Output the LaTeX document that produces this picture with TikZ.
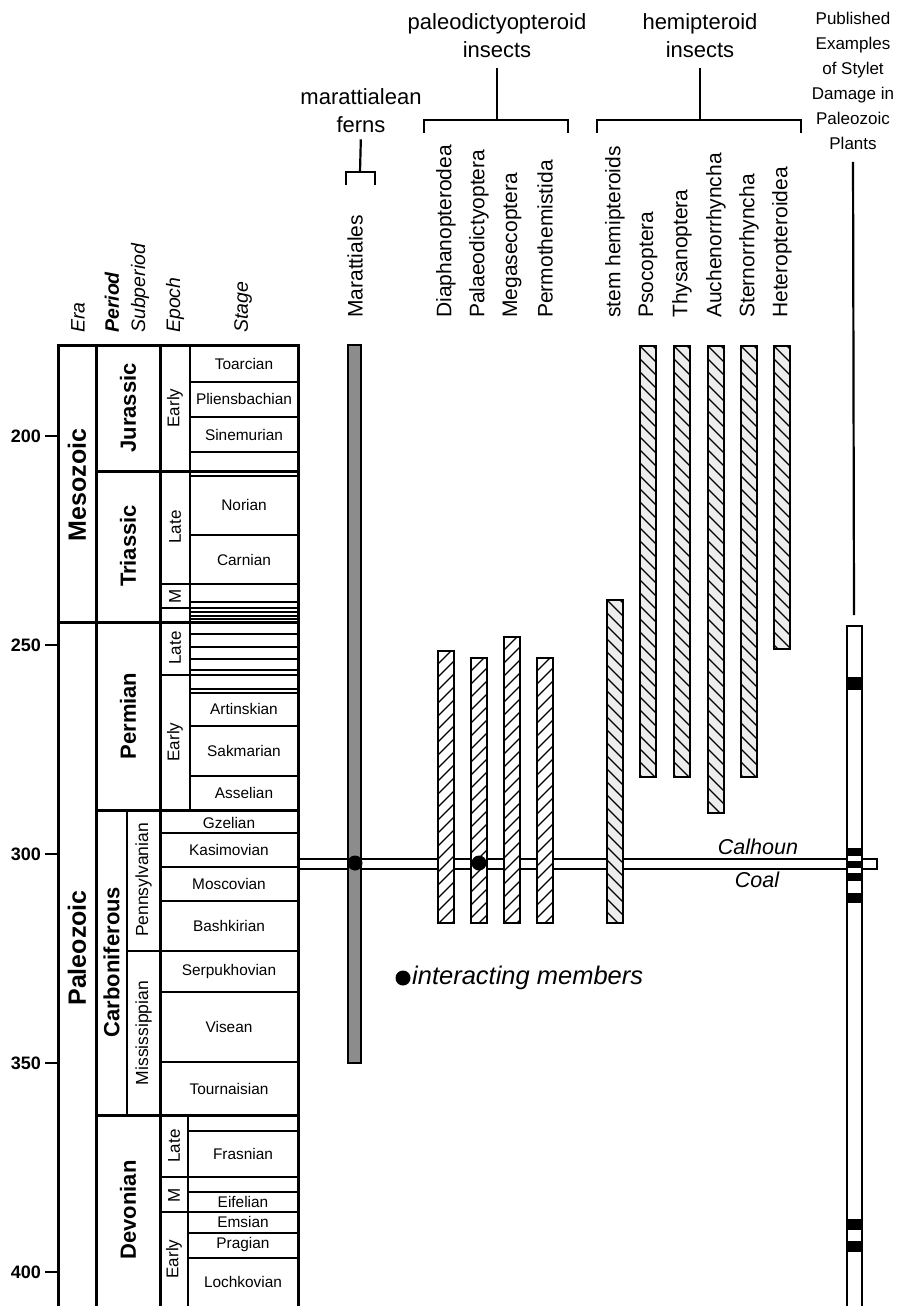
\documentclass[tikz,border=0pt]{standalone}
\usepackage{fontspec}
\setmainfont{Liberation Sans}
\newcommand\hatchbar[5]{% #1 x0, #2 top, #3 bottom, #4 dy, #5 fill
  \fill[#5] (#1,#2) rectangle ++(16,#3-#2);
  \begin{scope}
    \clip (#1,#2) rectangle ++(16,#3-#2);
    \foreach \k in {-2,...,40}
      \draw[hatchln] (#1,#2+13*\k) -- ++(16,#4);
  \end{scope}
  \draw[barbox] (#1,#2) rectangle ++(16,#3-#2);
}
\begin{document}
\begin{tikzpicture}[x=1pt,y=-1pt,
  bordr/.style={line width=3pt},
  midln/.style={line width=2pt},
  thinln/.style={line width=1.3pt},
  stg/.style={inner sep=0pt, font=\fontsize{15.4}{18}\selectfont},
  epo/.style={inner sep=0pt, rotate=90, font=\fontsize{17}{20}\selectfont},
  per/.style={inner sep=0pt, rotate=90, font=\fontsize{22}{26}\selectfont\bfseries},
  subp/.style={inner sep=0pt, rotate=90, font=\fontsize{17.5}{20}\selectfont},
  eralbl/.style={inner sep=0pt, rotate=90, font=\fontsize{25}{30}\selectfont\bfseries},
  hdr/.style={inner sep=0pt, rotate=90, anchor=west, font=\fontsize{19.5}{22}\selectfont\itshape},
  taxon/.style={inner sep=0pt, rotate=90, anchor=west, font=\fontsize{21}{24}\selectfont},
  grp/.style={inner sep=0pt, align=center, font=\fontsize{22}{28}\selectfont},
  agel/.style={inner sep=0pt, anchor=east, font=\fontsize{18}{20}\selectfont\bfseries},
  brk/.style={line width=2.2pt},
  hatchln/.style={line width=1.1pt},
  barbox/.style={line width=1.3pt},
  coalln/.style={line width=1.2pt},
  dotm/.style={fill=black, circle, inner sep=0pt, minimum size=15pt},
  lbl/.style={inner sep=0pt, font=\fontsize{21.5}{24}\selectfont\itshape},
]
\useasboundingbox (0,0) rectangle (897,1306);

% ---------- column headers ----------
\node[hdr] (hEra) at (78,333) {Era};
\node[hdr, font=\fontsize{19.5}{22}\selectfont\bfseries\itshape] (hPer) at (112,333) {Period};
\node[hdr] (hSub) at (140,333) {Subperiod};
\node[hdr] (hEpo) at (175,333) {Epoch};
\node[hdr] (hStg) at (243,333) {Stage};

% ---------- age axis ----------
\foreach \a/\yy in {200/436,250/645,300/854,350/1063,400/1272}{
  \draw[line width=2pt] (45,\yy) -- (58,\yy);
  \node[agel] (age\a) at (41,\yy) {\a};
}

% ---------- chart lines ----------
\foreach \yy in {382,417,452,476,535,602,612,616,619,634,647,659,670,689,693,726,776}
  \draw[thinln] (190,\yy) -- (298,\yy);
\foreach \yy in {833,867,901,992,1062}
  \draw[thinln] (160,\yy) -- (298,\yy);
\foreach \yy in {1131,1192,1233,1258}
  \draw[thinln] (188,\yy) -- (298,\yy);
\foreach \yy in {584,608,675,1177,1212}
  \draw[midln] (160,\yy) -- (298,\yy);
\draw[midln] (190,345) -- (190,810);
\draw[midln] (188,1115) -- (188,1306);
\draw[midln] (127,810) -- (127,1115);
\draw[midln] (127,951) -- (298,951);
\foreach \yy in {471,810,1115}
  \draw[bordr] (96,\yy) -- (298,\yy);
\draw[bordr] (58,622) -- (298,622);
\draw[bordr] (58,1310) -- (58,345) -- (298,345) -- (298,1310);
\draw[bordr] (96,345) -- (96,1310);
\draw[bordr] (160,345) -- (160,1310);

% ---------- era / period / subperiod / epoch labels ----------
\node[eralbl] (eMeso) at (77,485) {Mesozoic};
\node[eralbl] (ePaleo) at (77,948) {Paleozoic};
\node[per] (pJur) at (128,408) {Jurassic};
\node[per] (pTri) at (128,546) {Triassic};
\node[per] (pPerm) at (128,716) {Permian};
\node[per] (pCarb) at (111.5,962) {Carboniferous};
\node[per] (pDev) at (128,1210) {Devonian};
\node[subp] (sPenn) at (143.5,880) {Pennsylvanian};
\node[subp] (sMiss) at (143.5,1033) {Mississippian};
\node[epo] (epJE) at (175,408) {Early};
\node[epo] (epTL) at (175,527) {Late};
\node[epo] (epTM) at (175,596) {M};
\node[epo] (epPL) at (175,648) {Late};
\node[epo] (epPE) at (175,742) {Early};
\node[epo] (epDL) at (174,1146) {Late};
\node[epo] (epDM) at (174,1195) {M};
\node[epo] (epDE) at (174,1259) {Early};

% ---------- stage labels ----------
\foreach \nm/\yy in {Toarcian/364,Pliensbachian/399,Sinemurian/435,Norian/505,Carnian/560,Artinskian/709,Sakmarian/751,Asselian/793}
  \node[stg] (st\nm) at (244,\yy) {\nm};
\foreach \nm/\yy in {Gzelian/823,Kasimovian/850,Moscovian/884,Bashkirian/926,Serpukhovian/972,Visean/1027,Tournaisian/1089}
  \node[stg] (st\nm) at (229,\yy) {\nm};
\foreach \nm/\yy in {Frasnian/1154,Eifelian/1202,Emsian/1222,Pragian/1245,Lochkovian/1282}
  \node[stg] (st\nm) at (243,\yy) {\nm};

% ---------- Calhoun Coal band ----------
\draw[coalln] (298,859) rectangle (877,869);
\node[lbl] (calhoun) at (758,847) {Calhoun};
\node[lbl] (coal) at (757,880) {Coal};

% ---------- Marattiales ----------
\draw[barbox, fill=black!45] (348,345) rectangle (361,1063);

% ---------- paleodictyopteroid bars ----------
\hatchbar{438}{651}{923}{-16}{white}
\hatchbar{471}{658}{923}{-16}{white}
\hatchbar{504}{637}{923}{-16}{white}
\hatchbar{537}{658}{923}{-16}{white}

% ---------- hemipteroid bars ----------
\hatchbar{607}{600}{923}{16}{black!7}
\hatchbar{640}{346}{777}{16}{black!7}
\hatchbar{674}{346}{777}{16}{black!7}
\hatchbar{708}{346}{813}{16}{black!7}
\hatchbar{741}{346}{777}{16}{black!7}
\hatchbar{774}{346}{649}{16}{black!7}

% ---------- interaction dots ----------
\node[dotm] (dMar) at (355,863) {};
\node[dotm] (dPal) at (479,863) {};

% ---------- published examples bar ----------
\fill[white] (847,626) rectangle (862,1312);
\foreach \a/\b in {677/690,848/856,861/868,873/881,893/903,1219/1230,1241/1252}
  \fill (847,\a) rectangle (862,\b);
\draw[line width=2pt] (847,1312) -- (847,626) -- (862,626) -- (862,1312);

% ---------- taxon labels ----------
\node[taxon] (tMar) at (355,318) {Marattiales};
\node[taxon] (tDia) at (446,318) {Diaphanopterodea};
\node[taxon] (tPal) at (479,318) {Palaeodictyoptera};
\node[taxon] (tMeg) at (512,318) {Megasecoptera};
\node[taxon] (tPer) at (545,318) {Permothemistida};
\node[taxon] (tStem) at (615,318) {stem hemipteroids};
\node[taxon] (tPso) at (648,318) {Psocoptera};
\node[taxon] (tThy) at (682,318) {Thysanoptera};
\node[taxon] (tAuc) at (716,318) {Auchenorrhyncha};
\node[taxon] (tSte) at (749,318) {Sternorrhyncha};
\node[taxon] (tHet) at (782,318) {Heteropteroidea};

% ---------- group headers and brackets ----------
\node[grp] (gMar) at (361,111) {marattialean\\ferns};
\node[grp] (gPal) at (497,36) {paleodictyopteroid\\insects};
\node[grp] (gHem) at (700,36) {hemipteroid\\insects};
\node[inner sep=0pt, align=center, font=\fontsize{17}{25}\selectfont] (gPub) at (853,81)
  {Published\\Examples\\of Stylet\\Damage in\\Paleozoic\\Plants};

\coordinate (mJ) at (360,172);
\coordinate (mL) at (346,185);
\coordinate (mR) at (375,185);
\draw[brk, shorten <=6pt] (gMar.south) -- (mJ);
\draw[brk] (mL) |- (mJ) -| (mR);

\coordinate (pJ) at (497,120);
\coordinate (pL) at (424,133);
\coordinate (pR) at (568,133);
\draw[brk, shorten <=10pt] (gPal.south) -- (pJ);
\draw[brk] (pL) |- (pJ) -| (pR);

\coordinate (hJ) at (700,120);
\coordinate (hL) at (597,133);
\coordinate (hR) at (801,133);
\draw[brk, shorten <=10pt] (gHem.south) -- (hJ);
\draw[brk] (hL) |- (hJ) -| (hR);

\coordinate (pubEnd) at (854,615);
\draw[brk, shorten <=12pt] (gPub.south) -- (pubEnd);

% ---------- legend ----------
\node[dotm] (legDot) at (403,978) {};
\node[lbl, anchor=west, font=\fontsize{25.5}{28}\selectfont\itshape] (legTxt) at (412,978) {interacting members};
\end{tikzpicture}
\end{document}
